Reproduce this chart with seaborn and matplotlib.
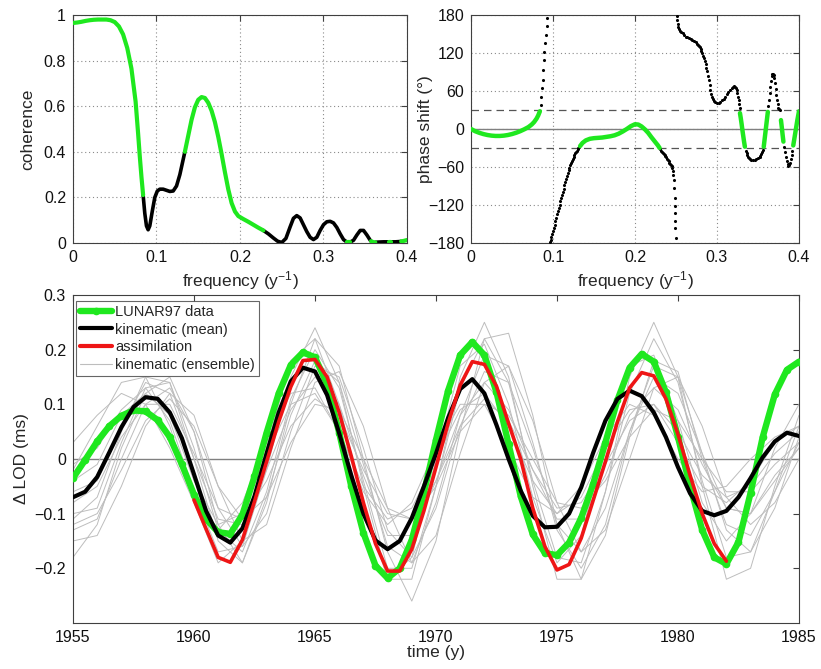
import numpy as np
import pandas as pd
import matplotlib
matplotlib.use("Agg")
import matplotlib.pyplot as plt
from matplotlib.lines import Line2D
import seaborn as sns

# ---- top panels: coherence / phase vs frequency ----
coh_freq = [0.000, 0.005, 0.010, 0.015, 0.020, 0.025, 0.030, 0.035, 0.040, 0.045,
            0.050, 0.055, 0.060, 0.065, 0.070, 0.075, 0.078, 0.080, 0.082, 0.084,
            0.086, 0.088, 0.090, 0.092, 0.095, 0.098, 0.101, 0.104, 0.108, 0.112,
            0.116, 0.120, 0.124, 0.128, 0.131, 0.134, 0.138, 0.142, 0.146, 0.150,
            0.154, 0.158, 0.162, 0.166, 0.170, 0.174, 0.178, 0.182, 0.186, 0.190,
            0.194, 0.198, 0.204, 0.210, 0.216, 0.222, 0.228, 0.234, 0.240, 0.245,
            0.250, 0.255, 0.260, 0.264, 0.268, 0.272, 0.276, 0.280, 0.284, 0.288,
            0.292, 0.296, 0.300, 0.304, 0.308, 0.312, 0.316, 0.320, 0.324, 0.328,
            0.332, 0.336, 0.340, 0.344, 0.348, 0.352, 0.356, 0.357, 0.360, 0.362,
            0.366, 0.372, 0.378, 0.381, 0.386, 0.390, 0.393, 0.396, 0.400]
coh_val = [0.965, 0.967, 0.970, 0.974, 0.977, 0.979, 0.980, 0.980, 0.980, 0.977,
           0.969, 0.950, 0.915, 0.855, 0.765, 0.620, 0.480, 0.380, 0.290, 0.210,
           0.130, 0.075, 0.058, 0.075, 0.140, 0.200, 0.228, 0.236, 0.236, 0.231,
           0.226, 0.228, 0.250, 0.300, 0.350, 0.400, 0.470, 0.540, 0.595, 0.628,
           0.640, 0.636, 0.615, 0.580, 0.530, 0.465, 0.390, 0.310, 0.235, 0.175,
           0.138, 0.118, 0.105, 0.093, 0.080, 0.067, 0.055, 0.040, 0.022, 0.008,
           0.002, 0.020, 0.070, 0.108, 0.120, 0.110, 0.080, 0.050, 0.025, 0.015,
           0.025, 0.055, 0.080, 0.093, 0.095, 0.088, 0.068, 0.040, 0.015, 0.004,
           0.004, 0.012, 0.035, 0.055, 0.055, 0.035, 0.012, 0.008, 0.003, 0.003,
           0.004, 0.005, 0.005, 0.005, 0.005, 0.006, 0.007, 0.009, 0.013]

phase_freq = [0.000, 0.005, 0.010, 0.015, 0.020, 0.025, 0.030, 0.035, 0.040, 0.045,
              0.050, 0.055, 0.060, 0.065, 0.070, 0.074, 0.077, 0.080, 0.082, 0.084,
              0.0848, 0.0856, 0.0864, 0.0872, 0.0880, 0.0888, 0.0896, 0.0904, 0.0912, 0.0921,
              0.0930,
              0.096, 0.097, 0.098, 0.099, 0.100, 0.101, 0.102, 0.103, 0.104, 0.105,
              0.106, 0.107, 0.108, 0.109, 0.110, 0.111, 0.112, 0.113, 0.114, 0.115,
              0.116, 0.117, 0.118, 0.119, 0.120, 0.121, 0.122, 0.123, 0.124, 0.125,
              0.126, 0.127, 0.128, 0.129, 0.130, 0.131, 0.132,
              0.133, 0.136, 0.140, 0.145, 0.150, 0.155, 0.160, 0.165, 0.170, 0.175,
              0.180, 0.185, 0.190, 0.195, 0.200, 0.204, 0.208, 0.212, 0.216, 0.220,
              0.224, 0.228, 0.230,
              0.231, 0.232, 0.233, 0.234, 0.235, 0.236, 0.237, 0.238, 0.239, 0.240,
              0.241, 0.242, 0.243, 0.244, 0.2447, 0.2455, 0.2462, 0.2467, 0.2472, 0.2478,
              0.2482, 0.2485, 0.2488, 0.2490, 0.2492, 0.2495,
              0.2512, 0.2516, 0.2522, 0.2530, 0.2540, 0.2550, 0.2560, 0.2580, 0.2600, 0.2620,
              0.2640, 0.2660, 0.2680, 0.2700, 0.2720, 0.2740, 0.2760, 0.2770, 0.2780, 0.2790,
              0.2800, 0.2810, 0.2820, 0.2830, 0.2840, 0.2850, 0.2860, 0.2870, 0.2880, 0.2890,
              0.2900, 0.2910, 0.2920, 0.2930, 0.2940, 0.2950, 0.2960, 0.2980, 0.3000, 0.3020,
              0.3040, 0.3060, 0.3080, 0.3100, 0.3120, 0.3140, 0.3160, 0.3180, 0.3200, 0.3210,
              0.3220, 0.3230, 0.3240, 0.3250, 0.3260, 0.3265, 0.3270, 0.3275,
              0.328, 0.329, 0.330, 0.331, 0.332, 0.333, 0.334,
              0.335, 0.336, 0.337, 0.338, 0.339, 0.340, 0.342, 0.344, 0.346, 0.348,
              0.350, 0.352, 0.353, 0.354, 0.355, 0.356,
              0.357, 0.358, 0.359, 0.360, 0.361, 0.362,
              0.3628, 0.3636, 0.3644, 0.3652, 0.3660, 0.3668, 0.3676, 0.3684, 0.3692, 0.3700,
              0.3708, 0.3716, 0.3724, 0.3732, 0.3740, 0.3750, 0.3760, 0.3770,
              0.378, 0.379, 0.380, 0.381,
              0.382, 0.383, 0.384, 0.385, 0.386, 0.387, 0.388, 0.389, 0.390, 0.391,
              0.392,
              0.393, 0.394, 0.395, 0.396, 0.397, 0.398, 0.399, 0.400]
phase_deg = [0.0, -3.5, -6.0, -8.0, -9.5, -10.5, -11.0, -11.0, -10.5, -9.5,
             -8.0, -6.0, -3.5, -0.5, 3.0, 7.0, 11.0, 16.5, 21.5, 28.0,
             38, 51, 64, 78, 93, 109, 122, 136, 149, 162,
             175,
             -179, -176, -171, -166, -161, -156, -151, -146, -141, -135,
             -130, -125, -120, -114, -109, -104, -99, -94, -89, -84,
             -79, -74, -70, -65, -61, -57, -53, -50, -47, -44,
             -41, -38, -36, -34, -32, -30.5, -29,
             -27, -22, -18, -15.5, -14.5, -14, -13.5, -12.5, -11.5, -10,
             -7.5, -4, 0, 4.5, 7.5, 7, 4, -0.5, -6, -13,
             -19.5, -26, -30,
             -32, -34, -36, -38, -40, -41.5, -43, -45, -47, -49,
             -51, -53, -55, -57, -59, -62, -66, -72, -80, -93,
             -109, -122, -133, -146, -157, -172,
             178, 172, 166, 161, 158, 155.5, 153.5, 151, 148, 146,
             144.5, 143.5, 142, 141, 139, 137, 134, 132.5, 131, 129,
             126, 123, 120, 116, 112, 108, 103, 97, 91, 84,
             77, 69, 62, 56, 51, 47, 44.5, 42, 41, 41.5,
             43, 45, 47.5, 51, 55, 58.5, 61.5, 64.5, 67, 67.5,
             67, 65.5, 62, 57, 50, 45, 39, 33,
             25, 17, 8, -2, -11, -20, -28,
             -34, -38, -41.5, -44, -46, -47.5, -49, -49.5, -49, -48,
             -46.5, -44, -42, -39.5, -36.5, -33,
             -28, -17, -6, 5, 16, 27,
             36, 46, 57, 67, 76, 83, 86.5, 87, 85, 80,
             72, 63, 54, 46, 39, 33, 31, 30,
             14, 3, -9, -20,
             -29, -37, -45, -51, -56, -58, -57.5, -54, -48, -41,
             -34,
             -26, -18, -10, -2, 6, 14, 21, 28]

# frequency bands where the phase stays inside +/-30 deg (drawn green)
signif_bands = [(0.0, 0.0842), (0.133, 0.230), (0.328, 0.334),
                (0.357, 0.362), (0.378, 0.381), (0.393, 0.400)]

# ---- bottom panel: Delta LOD time series ----
years_half = np.arange(1955.0, 1985.01, 0.5)
lunar97 = [-0.035, -0.002, 0.032, 0.060, 0.079, 0.089, 0.087, 0.071, 0.040, -0.010,
           -0.065, -0.110, -0.134, -0.137, -0.102, -0.032, 0.048, 0.120, 0.172, 0.195,
           0.186, 0.137, 0.048, -0.050, -0.135, -0.195, -0.218, -0.200, -0.148, -0.062,
           0.035, 0.125, 0.190, 0.214, 0.190, 0.122, 0.027, -0.068, -0.138, -0.172,
           -0.176, -0.153, -0.108, -0.045, 0.030, 0.108, 0.167, 0.192, 0.178, 0.122,
           0.040, -0.050, -0.130, -0.180, -0.192, -0.152, -0.062, 0.040, 0.118, 0.163,
           0.178]
kin_mean = [-0.070, -0.060, -0.033, 0.012, 0.058, 0.095, 0.113, 0.110, 0.085, 0.038,
            -0.028, -0.095, -0.140, -0.153, -0.127, -0.068, 0.010, 0.085, 0.142, 0.167,
            0.160, 0.117, 0.047, -0.030, -0.100, -0.149, -0.165, -0.150, -0.108, -0.050,
            0.010, 0.075, 0.128, 0.146, 0.120, 0.062, 0.000, -0.058, -0.104, -0.125,
            -0.124, -0.100, -0.052, 0.012, 0.070, 0.110, 0.125, 0.115, 0.085, 0.040,
            -0.015, -0.063, -0.095, -0.103, -0.095, -0.070, -0.035, 0.003, 0.032, 0.048,
            0.042]

years_assim = np.arange(1960.0, 1982.01, 0.5)
assim = [-0.075, -0.128, -0.180, -0.189, -0.148, -0.078, -0.005, 0.068, 0.132, 0.180,
         0.182, 0.150, 0.085, 0.005, -0.080, -0.155, -0.205, -0.205, -0.165, -0.095,
         -0.015, 0.065, 0.135, 0.178, 0.173, 0.133, 0.065, 0.000, -0.090, -0.160,
         -0.203, -0.193, -0.145, -0.075, -0.005, 0.068, 0.130, 0.158, 0.152, 0.110,
         0.045, -0.030, -0.100, -0.155, -0.187]

years_ens = np.arange(1955, 1986)
ensemble = [
    [-0.02, 0.06, 0.14, 0.15, 0.06, -0.08, -0.19, -0.15, 0.02, 0.18,
     0.22, 0.10, -0.08, -0.22, -0.18, 0.00, 0.17, 0.21, 0.10, -0.07,
     -0.19, -0.14, 0.03, 0.17, 0.19, 0.07, -0.08, -0.15, -0.10, 0.02, 0.10],
    [-0.12, -0.10, -0.02, 0.07, 0.11, 0.06, -0.05, -0.11, -0.07, 0.03,
     0.10, 0.09, 0.00, -0.09, -0.11, -0.04, 0.06, 0.11, 0.07, -0.02,
     -0.09, -0.08, -0.01, 0.07, 0.10, 0.05, -0.03, -0.07, -0.05, 0.01, 0.05],
    [-0.18, -0.12, 0.02, 0.12, 0.15, 0.05, -0.12, -0.19, -0.08, 0.10,
     0.22, 0.17, 0.00, -0.17, -0.26, -0.15, 0.05, 0.22, 0.23, 0.08,
     -0.12, -0.22, -0.14, 0.04, 0.18, 0.16, 0.00, -0.12, -0.14, -0.06, 0.03],
    [0.03, 0.08, 0.12, 0.10, 0.02, -0.08, -0.13, -0.08, 0.03, 0.12,
     0.13, 0.05, -0.06, -0.12, -0.08, 0.02, 0.10, 0.10, 0.02, -0.07,
     -0.10, -0.05, 0.04, 0.10, 0.08, 0.00, -0.06, -0.05, 0.00, 0.04, 0.06],
    [-0.10, -0.09, 0.03, 0.13, 0.14, 0.02, -0.13, -0.17, -0.06, 0.11,
     0.20, 0.13, -0.04, -0.20, -0.20, -0.05, 0.13, 0.22, 0.14, -0.04,
     -0.18, -0.19, -0.06, 0.12, 0.22, 0.14, -0.04, -0.18, -0.17, -0.06, 0.06],
    [-0.06, -0.04, 0.06, 0.14, 0.12, 0.00, -0.11, -0.12, -0.02, 0.09,
     0.15, 0.10, -0.03, -0.14, -0.14, -0.04, 0.08, 0.14, 0.09, -0.02,
     -0.11, -0.11, -0.03, 0.08, 0.13, 0.09, -0.01, -0.09, -0.10, -0.04, 0.02],
    [-0.15, -0.14, -0.05, 0.06, 0.12, 0.08, -0.05, -0.15, -0.12, 0.02,
     0.14, 0.16, 0.06, -0.09, -0.19, -0.14, 0.01, 0.14, 0.17, 0.07,
     -0.08, -0.17, -0.13, 0.00, 0.13, 0.15, 0.06, -0.07, -0.12, -0.08, 0.00],
    [-0.01, 0.02, 0.09, 0.13, 0.07, -0.06, -0.17, -0.16, -0.02, 0.15,
     0.24, 0.14, -0.05, -0.22, -0.22, -0.05, 0.15, 0.25, 0.15, -0.05,
     -0.22, -0.22, -0.06, 0.15, 0.25, 0.15, -0.05, -0.22, -0.20, -0.05, 0.08],
    [-0.08, -0.05, 0.04, 0.10, 0.10, 0.01, -0.09, -0.11, -0.04, 0.06,
     0.11, 0.08, -0.02, -0.10, -0.11, -0.05, 0.05, 0.10, 0.08, 0.00,
     -0.08, -0.09, -0.04, 0.04, 0.09, 0.07, 0.00, -0.06, -0.06, -0.01, 0.03],
    [-0.11, -0.07, 0.05, 0.15, 0.14, 0.00, -0.15, -0.19, -0.07, 0.08,
     0.18, 0.14, -0.01, -0.16, -0.19, -0.08, 0.08, 0.19, 0.17, 0.03,
     -0.13, -0.20, -0.12, 0.05, 0.17, 0.15, 0.01, -0.13, -0.17, -0.09, 0.04],
    [-0.04, -0.01, 0.08, 0.12, 0.08, -0.04, -0.12, -0.10, 0.01, 0.10,
     0.12, 0.05, -0.05, -0.11, -0.09, 0.00, 0.09, 0.12, 0.06, -0.04,
     -0.10, -0.07, 0.02, 0.09, 0.10, 0.03, -0.05, -0.08, -0.04, 0.03, 0.06],
    [-0.13, -0.11, 0.00, 0.10, 0.13, 0.05, -0.09, -0.16, -0.10, 0.05,
     0.17, 0.15, 0.02, -0.13, -0.18, -0.09, 0.06, 0.16, 0.14, 0.02,
     -0.12, -0.17, -0.09, 0.05, 0.15, 0.12, 0.01, -0.09, -0.10, -0.03, 0.02],
]

GREEN = "#1fe81f"
RED = "#ee1515"
GREY = "#bdbdbd"
EDGE = "#404040"


def band_mask(freq):
    f = np.asarray(freq, dtype=float)
    m = np.zeros(len(f), dtype=bool)
    for lo, hi in signif_bands:
        m |= (f >= lo - 1e-9) & (f <= hi + 1e-9)
    return m


def runs(mask):
    out, start = [], None
    for i, v in enumerate(mask):
        if v and start is None:
            start = i
        if not v and start is not None:
            out.append((start, i)); start = None
    if start is not None:
        out.append((start, len(mask)))
    return out


def style_axes(ax):
    for s in ax.spines.values():
        s.set_visible(True); s.set_color(EDGE); s.set_linewidth(0.8)
    ax.tick_params(direction="in", top=True, right=True, length=4,
                   color=EDGE, labelsize=11.5, labelcolor="#111111", pad=5)


sns.set_style("white")
plt.rcParams["font.family"] = ["Liberation Sans", "DejaVu Sans"]
plt.rcParams["mathtext.fontset"] = "custom"
plt.rcParams["mathtext.rm"] = "Liberation Sans"
plt.rcParams["mathtext.it"] = "Liberation Sans"

fig = plt.figure(figsize=(8.21, 6.69), dpi=100)
ax1 = fig.add_axes([0.0889, 0.6368, 0.4068, 0.3408])
ax2 = fig.add_axes([0.5737, 0.6368, 0.3995, 0.3408])
ax3 = fig.add_axes([0.0889, 0.0688, 0.8843, 0.4903])

grid_kw = dict(linestyle=(0, (1, 2.5)), color="#8a8a8a", linewidth=0.8)

# coherence
cf = np.asarray(coh_freq); cv = np.asarray(coh_val)
cm = band_mask(cf)
for s, e in runs(~cm):
    s0, e0 = max(s - 1, 0), min(e + 1, len(cf))
    sns.lineplot(x=cf[s0:e0], y=cv[s0:e0], color="black", linewidth=2.6,
                 estimator=None, sort=False, ax=ax1, zorder=3)
for s, e in runs(cm):
    sns.lineplot(x=cf[s:e], y=cv[s:e], color=GREEN, linewidth=3.0,
                 estimator=None, sort=False, ax=ax1, zorder=4)
ax1.set_xlim(0, 0.4); ax1.set_ylim(0, 1)
ax1.set_xticks([0, 0.1, 0.2, 0.3, 0.4]); ax1.set_xticklabels(["0", "0.1", "0.2", "0.3", "0.4"])
ax1.set_yticks([0, 0.2, 0.4, 0.6, 0.8, 1]); ax1.set_yticklabels(["0", "0.2", "0.4", "0.6", "0.8", "1"])
ax1.grid(True, **grid_kw)
ax1.set_xlabel(r"frequency (y$^{-1}$)", fontsize=12.5, labelpad=3)
ax1.set_ylabel("coherence", fontsize=12.5, labelpad=6)
style_axes(ax1)

# phase shift
pf = np.asarray(phase_freq); pdg = np.asarray(phase_deg, dtype=float)
pm = band_mask(pf)
ax2.axhline(0, color="#808080", linewidth=1.0, zorder=1)
for yv in (30, -30):
    ax2.axhline(yv, color="#555555", linewidth=0.9, dashes=(6, 4), zorder=1)
sns.scatterplot(x=pf[~pm], y=pdg[~pm], color="black", s=5, linewidth=0,
                ax=ax2, zorder=3)
for s, e in runs(pm):
    sns.lineplot(x=pf[s:e], y=pdg[s:e], color=GREEN, linewidth=3.2,
                 estimator=None, sort=False, ax=ax2, zorder=4)
ax2.set_xlim(0, 0.4); ax2.set_ylim(-180, 180)
ax2.set_xticks([0, 0.1, 0.2, 0.3, 0.4]); ax2.set_xticklabels(["0", "0.1", "0.2", "0.3", "0.4"])
ax2.set_yticks([-180, -120, -60, 0, 60, 120, 180])
ax2.set_yticklabels(["\u2212180", "\u2212120", "\u221260", "0", "60", "120", "180"])
ax2.grid(True, **grid_kw)
ax2.set_xlabel(r"frequency (y$^{-1}$)", fontsize=12.5, labelpad=3)
ax2.set_ylabel("phase shift (\u00b0)", fontsize=12.5)
ax2.yaxis.set_label_coords(-0.115, 0.5)
style_axes(ax2)

# Delta LOD
ax3.axhline(0, color="#808080", linewidth=1.0, zorder=1)
ens_df = pd.concat(
    [pd.DataFrame({"year": years_ens, "lod": m, "member": i}) for i, m in enumerate(ensemble)],
    ignore_index=True)
sns.lineplot(data=ens_df, x="year", y="lod", units="member", estimator=None,
             color=GREY, linewidth=0.7, ax=ax3, zorder=2)
sns.lineplot(x=years_half, y=lunar97, color=GREEN, linewidth=4.6, marker=".",
             markersize=11, markeredgewidth=0, estimator=None, ax=ax3, zorder=3)
sns.lineplot(x=years_half, y=kin_mean, color="black", linewidth=3.0,
             estimator=None, ax=ax3, zorder=4)
sns.lineplot(x=years_assim, y=assim, color=RED, linewidth=2.6,
             estimator=None, ax=ax3, zorder=5)
ax3.set_xlim(1955, 1985); ax3.set_ylim(-0.3, 0.3)
ax3.set_xticks([1955, 1960, 1965, 1970, 1975, 1980, 1985])
ax3.set_yticks([-0.2, -0.1, 0, 0.1, 0.2, 0.3])
ax3.set_yticklabels(["\u22120.2", "\u22120.1", "0", "0.1", "0.2", "0.3"])
ax3.set_xlabel("time (y)", fontsize=12.5, labelpad=0)
ax3.set_ylabel("\u0394 LOD (ms)", fontsize=12.5, labelpad=4)
style_axes(ax3)

handles = [
    Line2D([], [], color=GREEN, linewidth=4.6, marker=".", markersize=11, markeredgewidth=0),
    Line2D([], [], color="black", linewidth=3.0),
    Line2D([], [], color=RED, linewidth=3.0),
    Line2D([], [], color=GREY, linewidth=0.8),
]
labels = ["LUNAR97 data", "kinematic (mean)", "assimilation", "kinematic (ensemble)"]
leg = ax3.legend(handles, labels, loc="upper left", bbox_to_anchor=(0.004, 0.983),
                 frameon=True, fancybox=False, fontsize=10.5, handlelength=2.2,
                 handletextpad=0.2, labelspacing=0.25, borderpad=0.3,
                 borderaxespad=0.0, numpoints=1)
leg.get_frame().set_edgecolor(EDGE); leg.get_frame().set_linewidth(0.8)

fig.savefig("out.png", dpi=100)
